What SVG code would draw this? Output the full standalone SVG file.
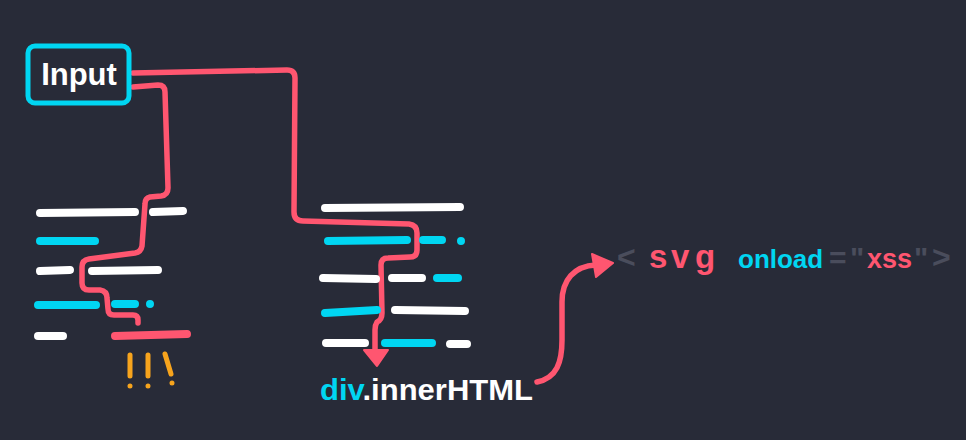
<svg xmlns="http://www.w3.org/2000/svg" width="966" height="440" viewBox="0 0 966 440">
<style>
.w{stroke:#ffffff;stroke-width:8;stroke-linecap:round;fill:none}
.c{stroke:#00d6f2;stroke-width:8;stroke-linecap:round;fill:none}
.r{stroke:#ff5670;stroke-width:5.5;stroke-linecap:round;stroke-linejoin:round;fill:none}
.o{stroke:#f7a41d;stroke-width:5;stroke-linecap:round;fill:none}
.t{font-family:"Liberation Sans",Arial,sans-serif;font-weight:bold}
</style>
<rect width="966" height="440" fill="#282b38"/>
<g id="connectors">
<path class="r" d="M133,87 L158,85 Q165,85 165,92 L168,188 Q168,195 161,196 L150,197 Q145,198 145,204 L142,246 Q141,252 135,253 L89,259 Q82,260 82,267 L82,283 Q82,290 89,290 L100,290 Q107,291 107,298 L108,309 Q108,315 114,315 L133,315 Q138,315 138,320 L138,323"/>
<path class="r" d="M133,73 L287,70 Q295,70 295,78 L294,212 Q294,221 303,221 L409,224 Q417,225 417,233 L417,250 Q417,257 410,257 L388,258 Q381,258 381,265 L382,313 Q382,320 377,322 Q375,325 375,330 L375,352"/>
<polygon points="364,350 388,350 377,366" fill="#ff5670" stroke="#ff5670" stroke-width="2" stroke-linejoin="round"/>
<path class="r" d="M537,382 C557,378 562,362 562,340 L562,302 C562,280 574,266 596,265"/>
<polygon points="592,254 613,263 596,277" fill="#ff5670" stroke="#ff5670" stroke-width="2" stroke-linejoin="round"/>
</g>
<g id="input">
<rect x="28" y="46" width="101" height="57" rx="7" fill="none" stroke="#00d6f2" stroke-width="5"/>
<text class="t" x="79" y="85" font-size="31" fill="#ffffff" text-anchor="middle">Input</text>
</g>
<g id="left-code">
<path class="w" d="M40,213 L135,212 M153,212 L183,211"/>
<path class="c" d="M40,241 L95,241"/>
<path class="w" d="M40,271 L70,270 M92,271 L158,270"/>
<path class="c" d="M38,305 L96,305 M115,304 L135,304 M150,304 L150,304"/>
<path class="w" d="M38,336 L63,336"/>
<path d="M115,336 L187,334" stroke="#ff5670" stroke-width="8" stroke-linecap="round" fill="none"/>
</g>
<g id="bang">
<path class="o" d="M130,355 L130,376 M130,386 L130,386 M148,355 L148,376 M148,386 L148,386 M165,354 L171,374 M172,383 L172,383"/>
</g>
<g id="right-code">
<path class="w" d="M325,208 L460,207"/>
<path class="c" d="M328,241 L407,240 M423,240 L442,240 M461,241 L461,241"/>
<path class="w" d="M323,278 L376,279 M392,278 L422,278"/>
<path class="c" d="M437,278 L458,278"/>
<path class="c" d="M325,313 L377,310"/>
<path class="w" d="M395,310 L465,311 M326,343 L365,343 M450,344 L467,344"/>
<path class="c" d="M385,343 L432,343"/>
</g>
<g id="innerhtml">
<text class="t" x="320" y="400" font-size="30" textLength="213" lengthAdjust="spacingAndGlyphs"><tspan fill="#00d6f2">div</tspan><tspan fill="#ffffff">.innerHTML</tspan></text>
</g>
<g id="payload">
<text class="t" y="268" font-size="30"><tspan x="617" fill="#4a4d5c" font-size="32">&lt;</tspan><tspan x="649" fill="#ff5670" font-size="33">s</tspan><tspan x="671" fill="#ff5670" font-size="33">v</tspan><tspan x="695" fill="#ff5670" font-size="33">g</tspan><tspan x="738" fill="#00d6f2" font-size="26">onload</tspan><tspan x="829" fill="#4a4d5c">=</tspan><tspan x="850" fill="#4a4d5c">"</tspan><tspan x="867" fill="#ff5670" font-size="27">xss</tspan><tspan x="914" fill="#4a4d5c">"</tspan><tspan x="932" fill="#4a4d5c" font-size="32">&gt;</tspan></text>
</g>
</svg>
